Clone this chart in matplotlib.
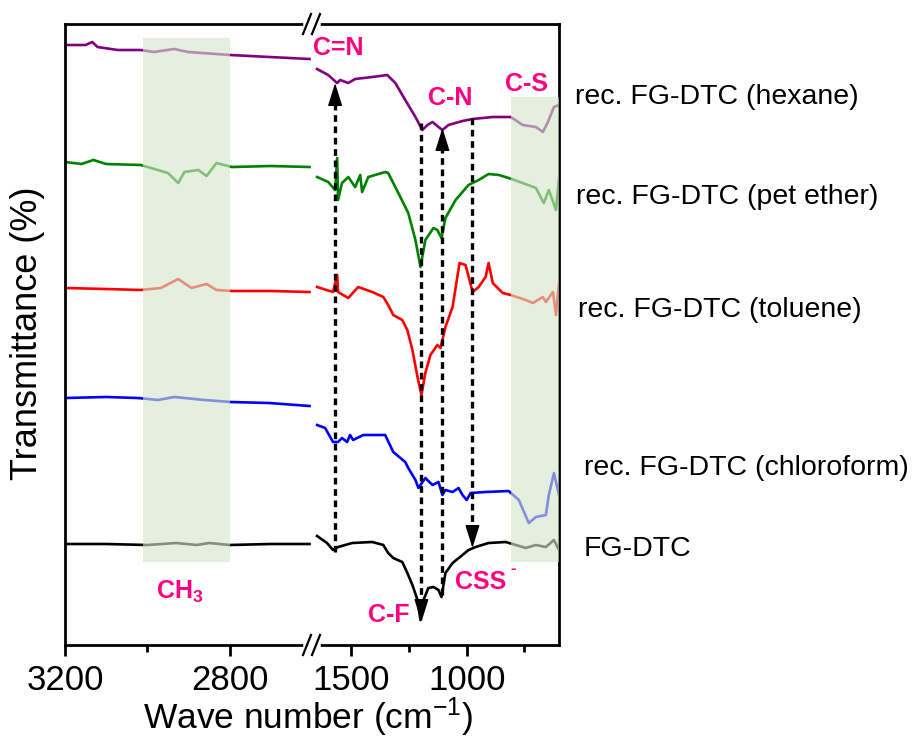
import numpy as np
import matplotlib.pyplot as plt
from matplotlib.lines import Line2D

plt.rcParams["font.family"] = ["Liberation Sans", "DejaVu Sans"]
plt.rcParams["mathtext.fontset"] = "custom"
plt.rcParams["mathtext.rm"] = "Liberation Sans"
plt.rcParams["mathtext.bf"] = "Liberation Sans:bold"
plt.rcParams["mathtext.default"] = "regular"

# ---- spectra, stacked (arbitrary offset units) ----
# high wavenumber window (3200-2600)
hex_wn_hi = [3198, 3150, 3134, 3121, 3072, 3016, 2984, 2935, 2901, 2798, 2704, 2606]
hex_t_hi = [600, 600, 603, 598, 595, 595, 593, 596, 593, 590, 588, 586]
pet_wn_hi = [3200, 3160, 3131, 3100, 3016, 2950, 2925, 2910, 2876, 2856, 2832, 2795, 2700, 2606]
pet_t_hi = [483, 481, 485, 481, 480, 472, 462, 473, 475, 469, 482, 478, 479, 478]
tol_wn_hi = [3200, 3100, 3016, 2967, 2925, 2893, 2856, 2832, 2795, 2700, 2606]
tol_t_hi = [357, 356, 355, 357, 366, 357, 361, 355, 354, 354, 353]
chl_wn_hi = [3200, 3100, 3023, 2974, 2935, 2861, 2798, 2704, 2606]
chl_t_hi = [247, 248, 247, 245, 248, 245, 243, 242, 239]
fg_wn_hi = [3200, 3100, 3000, 2930, 2880, 2850, 2800, 2700, 2606]
fg_t_hi = [101, 101, 100, 102, 100, 102, 100, 101, 101]

# fingerprint window (1650-600)
hex_wn_lo = [1648, 1600, 1561, 1548, 1513, 1483, 1409, 1344, 1309, 1266, 1222, 1192,
             1170, 1148, 1122, 1105, 1079, 1018, 974, 887, 809, 757, 700, 670, 648, 622, 600]
hex_t_lo = [576, 570, 562, 565, 562, 566, 568, 570, 562, 545, 528, 515,
            520, 523, 518, 515, 520, 524, 526, 528, 528, 520, 518, 513, 523, 538, 540]
pet_wn_lo = [1648, 1600, 1570, 1561, 1557, 1540, 1513, 1483, 1461, 1453, 1426, 1353,
             1340, 1296, 1253, 1222, 1200, 1179, 1144, 1127, 1109, 1092, 1048, 992,
             948, 905, 861, 818, 757, 700, 666, 644, 613, 600]
pet_t_lo = [468, 463, 455, 487, 445, 462, 468, 458, 470, 453, 468, 473,
            472, 452, 432, 405, 378, 405, 417, 415, 407, 427, 445, 460,
            465, 471, 470, 467, 462, 457, 442, 455, 435, 467]
tol_wn_lo = [1648, 1579, 1561, 1557, 1513, 1470, 1409, 1361, 1340, 1318, 1279, 1257,
             1235, 1213, 1196, 1179, 1157, 1127, 1113, 1092, 1061, 1031, 1005, 974,
             948, 918, 905, 887, 844, 809, 744, 713, 670, 657, 626, 613, 600]
tol_t_lo = [358, 353, 370, 353, 347, 358, 353, 348, 340, 330, 325, 315,
            295, 268, 250, 272, 290, 300, 297, 318, 338, 382, 380, 353,
            358, 368, 382, 362, 352, 350, 345, 342, 348, 343, 353, 330, 362]
chl_wn_lo = [1648, 1613, 1579, 1557, 1540, 1518, 1505, 1492, 1448, 1353, 1318, 1287,
             1266, 1253, 1222, 1209, 1179, 1148, 1122, 1105, 1092, 1061, 1035, 1018,
             1000, 983, 918, 818, 774, 731, 700, 657, 644, 622, 600]
chl_t_lo = [220, 217, 203, 203, 207, 203, 210, 205, 210, 210, 193, 187,
            183, 177, 165, 157, 167, 160, 163, 150, 155, 153, 157, 150,
            145, 152, 153, 154, 145, 122, 128, 130, 150, 172, 150]
fg_wn_lo = [1648, 1605, 1579, 1557, 1496, 1409, 1361, 1340, 1318, 1279, 1257, 1235,
            1213, 1200, 1187, 1166, 1144, 1122, 1109, 1092, 1061, 1018, 992, 961,
            905, 831, 787, 744, 700, 657, 622, 600]
fg_t_lo = [109, 102, 95, 98, 102, 103, 100, 92, 87, 83, 72, 60,
           45, 25, 45, 57, 58, 55, 48, 72, 82, 90, 95, 98,
           102, 103, 100, 97, 100, 98, 105, 95]

names = ["rec. FG-DTC (hexane)", "rec. FG-DTC (pet ether)", "rec. FG-DTC (toluene)",
         "rec. FG-DTC (chloroform)", "FG-DTC"]
colors = ["#800080", "#008000", "#ff0000", "#0000ff", "#000000"]
hi_sets = [(hex_wn_hi, hex_t_hi), (pet_wn_hi, pet_t_hi), (tol_wn_hi, tol_t_hi),
           (chl_wn_hi, chl_t_hi), (fg_wn_hi, fg_t_hi)]
lo_sets = [(hex_wn_lo, hex_t_lo), (pet_wn_lo, pet_t_lo), (tol_wn_lo, tol_t_lo),
           (chl_wn_lo, chl_t_lo), (fg_wn_lo, fg_t_lo)]

# band assignments: (wavenumber, start, tip)
arrows = [(1570, 93, 562), (1196, 522, 23), (1105, 50, 517), (975, 527, 97)]

W, H = 924, 747
fig = plt.figure(figsize=(W / 100, H / 100), dpi=100)


def fx(x):
    return x / W


def fy(y):
    return 1 - y / H


ax1 = fig.add_axes([fx(65), fy(645), fx(312) - fx(65), fy(24) - fy(645)])
ax2 = fig.add_axes([fx(312), fy(645), fx(559) - fx(312), fy(24) - fy(645)])

for ax, sets in [(ax1, hi_sets), (ax2, lo_sets)]:
    for (wn, t), c in zip(sets, colors):
        ax.plot(wn, t, color=c, lw=1.9, zorder=2)
    ax.set_ylim(0, 621)
    ax.set_yticks([])
    for s in ax.spines.values():
        s.set_linewidth(2)
    ax.tick_params(axis="x", which="major", direction="out", length=8, width=2,
                   labelsize=25, pad=6)
    ax.tick_params(axis="x", which="minor", direction="out", length=5, width=2)

ax1.set_xlim(3200, 2600)
ax1.set_xticks([3200, 2800])
ax1.set_xticks([3000], minor=True)
ax1.spines["right"].set_visible(False)
ax2.set_xlim(1670, 600)
ax2.set_xticks([1500, 1000])
ax2.set_xticks([1250, 750], minor=True)
ax2.spines["left"].set_visible(False)

# shaded bands (on top, lighten the traces)
ax1.axvspan(3010, 2800, ymin=83 / 621, ymax=607 / 621, color="#d4e6c8", alpha=0.62,
            lw=0, zorder=3)
ax2.axvspan(810, 600, ymin=83 / 621, ymax=548 / 621, color="#d4e6c8", alpha=0.62,
            lw=0, zorder=3)

# dashed arrows
for wn, y0, tip in arrows:
    d = 1 if tip > y0 else -1
    ax2.plot([wn, wn], [y0, tip - d * 18], color="k", lw=2.4,
             linestyle=(0, (2.0, 1.4)), zorder=4)
    ax2.annotate("", xy=(wn, tip), xytext=(wn, tip - d * 20),
                 arrowprops=dict(arrowstyle="-|>,head_length=0.8,head_width=0.25",
                                 mutation_scale=18, color="k", lw=1,
                                 shrinkA=0, shrinkB=0), zorder=5)

# band labels
pink = "#ff0080"
lab = dict(color=pink, fontsize=18, ha="center", va="center", fontweight="bold")
fig.text(fx(338), fy(48), "C=N", **lab)
fig.text(fx(450), fy(98), "C-N", **lab)
fig.text(fx(526), fy(84), "C-S", **lab)
fig.text(fx(389), fy(615), "C-F", **lab)
fig.text(fx(481), fy(582), "CSS", **lab)
fig.text(fx(510), fy(568), "-", color=pink, fontsize=12, ha="left", va="center",
         fontweight="bold")
fig.text(fx(180), fy(592), r"$\mathbf{CH_3}$", color=pink, fontsize=18,
         ha="center", va="center")

# trace names
for name, (x, y) in zip(names, [(575, 97), (576, 197), (578, 310), (584, 468), (584, 549)]):
    fig.text(fx(x), fy(y), name, fontsize=20.5, ha="left", va="center")

fig.text(fx(28), fy(333), "Transmittance (%)", fontsize=26, rotation=90,
         ha="center", va="center")
fig.text(fx(308), fy(717), "Wave number (cm$^{-1}$)", fontsize=25.5,
         ha="center", va="center")

# axis break marks
for y in (24, 645):
    fig.add_artist(Line2D([fx(306), fx(318)], [fy(y), fy(y)], color="white", lw=4,
                          transform=fig.transFigure))
    for x in (307, 316):
        fig.add_artist(Line2D([fx(x - 4), fx(x + 4)], [fy(y + 10), fy(y - 10)],
                              color="k", lw=1.6, transform=fig.transFigure))

fig.savefig("out.png", dpi=100)
